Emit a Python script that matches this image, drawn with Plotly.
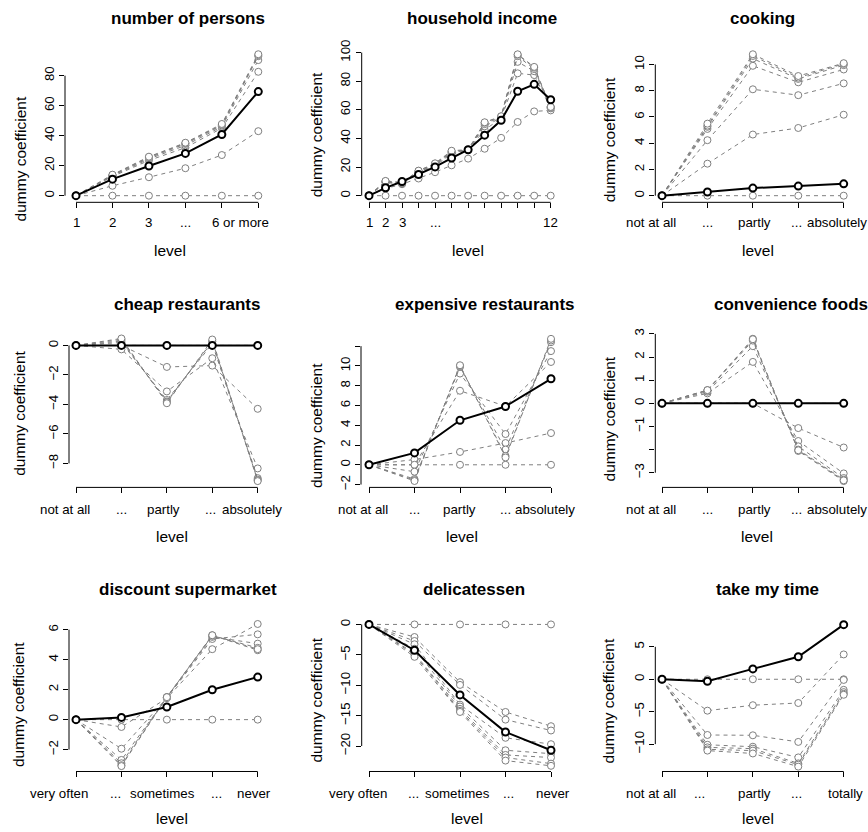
import plotly.graph_objects as go

W, H = 868, 832
GREY = "#7f7f7f"
FONT = "Liberation Sans, Arial, Helvetica, sans-serif"

# ---------------- data ----------------
titles = ["number of persons", "household income", "cooking",
          "cheap restaurants", "expensive restaurants", "convenience foods",
          "discount supermarket", "delicatessen", "take my time"]

lab_persons = ["1", "2", "3", "...", "6 or more"]
lab_income = ["1", "2", "3", "...", "12"]
lab_agree = ["not at all", "...", "partly", "...", "absolutely"]
lab_freq = ["very often", "...", "sometimes", "...", "never"]
lab_time = ["not at all", "...", "partly", "...", "totally"]

persons_black = [0, 11.0, 19.8, 28.2, 40.8, 69.4]
persons_grey = [
    [0, 0, 0, 0, 0, 0],
    [0, 6.6, 12.3, 18.3, 27.1, 43.0],
    [0, 12.8, 23.5, 32.0, 45.0, 82.6],
    [0, 13.2, 24.5, 33.5, 46.0, 90.4],
    [0, 13.5, 25.2, 34.5, 46.8, 93.0],
    [0, 13.8, 25.7, 35.0, 47.3, 93.7],
    [0, 14.0, 26.0, 35.3, 47.8, 94.3],
]

income_black = [0, 5.5, 9.9, 14.8, 20.1, 26.3, 32.1, 42.3, 52.7, 73.0, 77.8, 67.0]
income_grey = [
    [0, 0, 0, 0, 0, 0, 0, 0, 0, 0, 0, 0],
    [0, 5.0, 8.0, 12.0, 16.4, 21.2, 25.9, 32.8, 40.4, 51.5, 58.9, 59.6],
    [0, 9.0, 8.5, 16.0, 21.0, 29.0, 32.0, 46.0, 54.0, 85.5, 84.3, 61.0],
    [0, 9.5, 8.5, 16.5, 21.5, 30.0, 32.0, 48.5, 54.5, 93.5, 87.0, 61.5],
    [0, 10.0, 9.0, 17.0, 22.0, 30.5, 32.0, 50.0, 55.0, 97.5, 88.5, 62.0],
    [0, 10.0, 9.0, 17.3, 22.4, 31.0, 32.0, 51.0, 55.4, 98.5, 89.5, 62.0],
    [0, 10.3, 9.2, 17.5, 22.6, 31.4, 32.2, 51.3, 55.5, 98.8, 90.0, 62.0],
]

cooking_black = [0, 0.28, 0.58, 0.73, 0.9]
cooking_grey = [
    [0, 0, 0, 0, 0],
    [0, 2.44, 4.66, 5.16, 6.17],
    [0, 4.23, 8.11, 7.66, 8.56],
    [0, 5.09, 9.9, 8.64, 9.62],
    [0, 5.25, 10.45, 8.9, 9.95],
    [0, 5.34, 10.65, 9.0, 10.05],
    [0, 5.49, 10.78, 9.12, 10.1],
]

cheap_black = [0, 0, 0, 0, 0]
cheap_grey = [
    [0, 0, 0, 0, 0],
    [0, 0.0, -1.46, -1.37, -4.3],
    [0, -0.27, -3.12, -0.87, -8.34],
    [0, 0.2, -3.7, 0.1, -9.0],
    [0, 0.3, -3.8, 0.25, -9.1],
    [0, 0.4, -3.85, 0.3, -9.15],
    [0, 0.47, -3.92, 0.4, -9.2],
]

expensive_black = [0, 1.2, 4.5, 5.9, 8.7]
expensive_grey = [
    [0, 0, 0, 0, 0],
    [0, 0.53, 1.3, 2.2, 3.21],
    [0, 0.0, 7.49, 5.92, 10.4],
    [0, -0.7, 9.23, 3.11, 11.5],
    [0, -1.44, 9.9, 1.54, 12.4],
    [0, -1.55, 10.0, 0.9, 12.57],
    [0, -1.64, 10.07, 0.74, 12.74],
]

convenience_black = [0, 0, 0, 0, 0]
convenience_grey = [
    [0, 0, 0, 0, 0],
    [0, 0, 0, -1.07, -1.91],
    [0, 0.43, 1.79, -1.63, -3.03],
    [0, 0.5, 2.47, -1.86, -3.23],
    [0, 0.55, 2.71, -2.0, -3.3],
    [0, 0.57, 2.79, -2.06, -3.36],
    [0, 0.57, 2.77, -2.03, -3.33],
]

discount_black = [0, 0.15, 0.84, 1.99, 2.84]
discount_grey = [
    [0, 0, 0, 0, 0],
    [0, -0.49, 1.43, 4.7, 6.38],
    [0, -1.94, 1.45, 5.38, 5.69],
    [0, -2.69, 1.47, 5.52, 5.07],
    [0, -2.91, 1.5, 5.6, 4.79],
    [0, -3.04, 1.5, 5.63, 4.63],
    [0, -3.1, 1.5, 5.63, 4.7],
]

deli_black = [0, -4.24, -11.6, -17.7, -20.7]
deli_grey = [
    [0, 0, 0, 0, 0],
    [0, -2.07, -9.5, -14.4, -16.74],
    [0, -2.72, -9.95, -15.66, -17.45],
    [0, -3.26, -13.2, -18.65, -19.7],
    [0, -4.0, -13.5, -20.7, -21.26],
    [0, -4.78, -13.9, -21.47, -21.9],
    [0, -5.0, -14.2, -21.9, -22.9],
    [0, -5.33, -14.4, -22.4, -23.26],
]

time_black = [0, -0.3, 1.6, 3.47, 8.42]
time_grey = [
    [0, 0, 0, 0, 0],
    [0, -4.84, -4.0, -3.66, 3.83],
    [0, -8.59, -8.64, -9.66, -0.1],
    [0, -10.1, -10.4, -12.05, -1.63],
    [0, -10.5, -10.7, -12.97, -1.98],
    [0, -10.8, -11.0, -13.17, -2.24],
    [0, -11.0, -11.44, -13.47, -2.39],
]

yticks = [
    [0, 20, 40, 60, 80],
    [0, 20, 40, 60, 80, 100],
    [0, 2, 4, 6, 8, 10],
    [-8, -6, -4, -2, 0],
    [-2, 0, 2, 4, 6, 8, 10, 12],
    [-3, -2, -1, 0, 1, 2, 3],
    [-2, 0, 2, 4, 6],
    [-20, -15, -10, -5, 0],
    [-10, -5, 0, 5],
]
# labels R dropped for overlap
yhidden = [[], [], [], [], [12], [-2], [], [], []]

# ---------------- layout geometry (pixels) ----------------
# ax_x, right, x1px, xnpx, ax_y, top, (v_a, py_a), (v_b, py_b)
geom = [
    (65, 266, 76, 258.3, 200, 40, (0, 193.3), (80, 72.3)),
    (361.7, 558, 369, 550.7, 200, 40, (0, 193.3), (100, 49)),
    (655.3, 851, 662, 843.7, 200, 40, (0, 193.3), (10, 61)),
    (69, 265, 76, 257.7, 487.5, 325, (0, 344.3), (-8, 463.3)),
    (361, 558, 369, 551, 487.5, 325, (0, 464.7), (10, 365)),
    (655.3, 851, 662, 843.7, 487.5, 325, (0, 402.7), (3, 332.7)),
    (69, 265, 76, 257.7, 774, 612, (0, 721.7), (6, 631)),
    (361.7, 558, 369, 551, 774, 612, (0, 625.7), (-20, 748.3)),
    (655.3, 851, 662, 843.7, 774, 612, (0, 681), (5, 648.3)),
]
title_xy = [(188.3, 15), (481.7, 15), (762.2, 15),
            (187, 303.3), (485, 303.3), (790.5, 303.3),
            (187.5, 590), (474.2, 590), (767.2, 590)]
level_xy = [(170, 248.3), (468.3, 248.3), (758, 248.3),
            (171.7, 536.7), (461.7, 536.7), (757.3, 536.7),
            (171.7, 821.7), (466.7, 821.7), (758, 821.7)]
dummy_xy = [(20, 156.7), (316.7, 131.7), (609.7, 136.7),
            (20, 413.3), (316.7, 425), (609.7, 418.3),
            (18.3, 706.7), (316.7, 701.7), (608, 703.3)]
lab_y = [220.7, 220.7, 220.7, 510, 510, 510, 795.7, 795.7, 795.7]
lab_pos = [
    [1, 2, 3, 4, 5.52],
    [1, 2, 3, 5, 12],
    [0.765, 2, 3.03, 3.96, 4.846],
    [0.758, 2, 2.92, 3.97, 4.88],
    [0.875, 2, 2.98, 4.0, 4.87],
    [0.765, 2, 3.03, 3.96, 4.846],
    [0.63, 1.876, 2.904, 4.097, 4.91],
    [0.765, 1.974, 2.94, 4.06, 5.035],
    [0.765, 1.83, 3.03, 3.96, 5.05],
]

blacks = [persons_black, income_black, cooking_black, cheap_black, expensive_black,
          convenience_black, discount_black, deli_black, time_black]
greys = [persons_grey, income_grey, cooking_grey, cheap_grey, expensive_grey,
         convenience_grey, discount_grey, deli_grey, time_grey]
labels = [lab_persons, lab_income, lab_agree, lab_agree, lab_agree, lab_agree,
          lab_freq, lab_freq, lab_time]

TICK_FS = 13.3


def fmt(v):
    s = str(v)
    return s.replace("-", "\u2212")


fig = go.Figure()
layout = dict(width=W, height=H, margin=dict(l=0, r=0, t=0, b=0),
              paper_bgcolor="white", plot_bgcolor="white", showlegend=False,
              font=dict(family=FONT, color="black", size=13))
shapes, annotations = [], []

for i in range(9):
    k = i + 1
    xa = "x" if k == 1 else f"x{k}"
    ya = "y" if k == 1 else f"y{k}"
    ax_x, right, x1, xn, ax_y, top, (va, pa), (vb, pb) = geom[i]
    blk = blacks[i]
    n = len(blk)
    levels = list(range(1, n + 1))
    dx = (xn - x1) / (n - 1)
    dy = (pa - pb) / (vb - va)
    xr = [1 - (x1 - ax_x) / dx, 1 + (right - x1) / dx]
    yr = [va - (ax_y - pa) / dy, va + (pa - top) / dy]

    for g in greys[i]:
        fig.add_trace(go.Scatter(
            x=levels, y=g, xaxis=xa, yaxis=ya, mode="lines+markers",
            line=dict(color=GREY, width=1, dash="4px,4px"),
            marker=dict(symbol="circle", size=7, color="rgba(255,255,255,1)",
                        line=dict(color=GREY, width=1)),
            cliponaxis=False, hoverinfo="skip"))
    fig.add_trace(go.Scatter(
        x=levels, y=blk, xaxis=xa, yaxis=ya, mode="lines+markers",
        line=dict(color="black", width=2),
        marker=dict(symbol="circle", size=7, color="white",
                    line=dict(color="black", width=2)),
        cliponaxis=False, hoverinfo="skip"))

    yt = yticks[i]
    ytt = ["" if v in yhidden[i] else fmt(v) for v in yt]
    layout["xaxis" if k == 1 else f"xaxis{k}"] = dict(
        domain=[ax_x / W, right / W], range=xr, anchor=ya,
        showline=False, showgrid=False, zeroline=False,
        ticks="outside", ticklen=5, tickwidth=1, tickcolor="black",
        tickvals=levels, showticklabels=False, fixedrange=True)
    layout["yaxis" if k == 1 else f"yaxis{k}"] = dict(
        domain=[1 - ax_y / H, 1 - top / H], range=yr, anchor=xa,
        showline=False, showgrid=False, zeroline=False,
        ticks="outside", ticklen=5, tickwidth=1, tickcolor="black",
        tickvals=yt, ticktext=ytt, tickangle=-90,
        tickfont=dict(size=TICK_FS, color="black", family=FONT), fixedrange=True)

    # R-style axis lines spanning only the tick range
    shapes.append(dict(type="line", xref=xa, yref=f"{ya} domain",
                       x0=1, x1=n, y0=0, y1=0,
                       line=dict(color="black", width=1)))
    shapes.append(dict(type="line", xref=f"{xa} domain", yref=ya,
                       x0=0, x1=0, y0=yt[0], y1=yt[-1],
                       line=dict(color="black", width=1)))

    # x tick labels
    for txt, pos in zip(labels[i], lab_pos[i]):
        px = x1 + (pos - 1) * dx
        annotations.append(dict(text=txt, x=px / W, y=1 - lab_y[i] / H,
                                xref="paper", yref="paper", showarrow=False,
                                xanchor="center", yanchor="middle",
                                font=dict(size=TICK_FS, family=FONT, color="black")))
    tx, ty = title_xy[i]
    annotations.append(dict(text=f"<b>{titles[i]}</b>", x=tx / W, y=1 - ty / H,
                            xref="paper", yref="paper", showarrow=False,
                            xanchor="center", yanchor="middle",
                            font=dict(size=17, family=FONT, color="black")))
    lx, ly = level_xy[i]
    annotations.append(dict(text="level", x=lx / W, y=1 - ly / H,
                            xref="paper", yref="paper", showarrow=False,
                            xanchor="center", yanchor="middle",
                            font=dict(size=15.5, family=FONT, color="black")))
    dxp, dyp = dummy_xy[i]
    annotations.append(dict(text="dummy coefficient", x=dxp / W, y=1 - dyp / H,
                            xref="paper", yref="paper", showarrow=False,
                            textangle=-90, xanchor="center", yanchor="middle",
                            font=dict(size=15.5, family=FONT, color="black")))

layout["shapes"] = shapes
layout["annotations"] = annotations
fig.update_layout(**layout)

fig.write_html("out.html", config={"displayModeBar": False},
               post_script="document.body.style.margin='0px';")
